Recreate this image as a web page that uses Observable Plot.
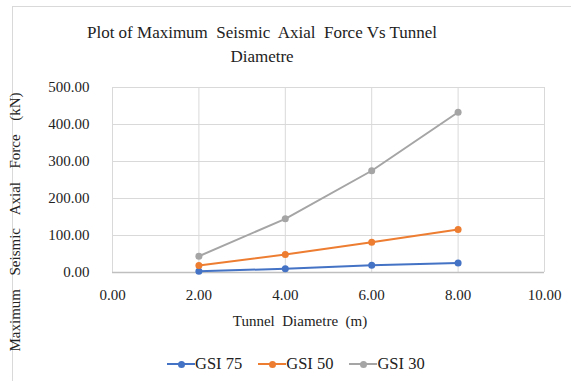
<!DOCTYPE html>
<html>
<head>
<meta charset="utf-8">
<script src="https://cdn.jsdelivr.net/npm/d3@7"></script>
<script src="https://cdn.jsdelivr.net/npm/@observablehq/plot@0.6"></script>
<style>
  html, body { margin: 0; padding: 0; background: #fff; }
  #wrap { position: relative; width: 571px; height: 381px; overflow: hidden; font-family: 'Liberation Serif', 'Times New Roman', serif; color: #222; }
  #border { position: absolute; left: 12px; top: 6px; width: 600px; height: 400px; border: 1px solid #d9d9d9; box-sizing: border-box; }
  #title { position: absolute; left: 62px; width: 400px; top: 21px; text-align: center; font-size: 17px; line-height: 24px; white-space: pre; }
  #ylabel { position: absolute; left: 15px; top: 222px; transform: translate(-50%, -50%) rotate(-90deg); font-size: 15px; word-spacing: 3px; white-space: pre; }
  #xlabel { position: absolute; left: 300px; top: 321px; transform: translate(-50%, -50%); font-size: 15px; white-space: pre; }
  #legend { position: absolute; left: 167px; top: 354px; display: flex; gap: 16px; font-size: 16.5px; }
  .item { display: flex; align-items: center; }
  .sw { position: relative; width: 28px; height: 10px; }
  .sw .ln { position: absolute; left: 0; right: 0; top: 4px; height: 2px; }
  .sw .dt { position: absolute; left: 10.5px; top: 1.5px; width: 7px; height: 7px; border-radius: 50%; }
  #chart { position: absolute; left: 0; top: 0; }
  #chart svg text { font-family: 'Liberation Serif', 'Times New Roman', serif; }
</style>
</head>
<body>
<div id="wrap">
  <div id="border"></div>
  <div id="chart"></div>
  <div id="title"></div>
  <div id="ylabel"></div>
  <div id="xlabel"></div>
  <div id="legend"></div>
</div>
<script>
const titleLines = ["Plot of Maximum  Seismic  Axial  Force Vs Tunnel", "Diametre"];
const xLabel = "Tunnel  Diametre  (m)";
const yLabel = "Maximum  Seismic  Axial  Force  (kN)";
const diameters = [2, 4, 6, 8];
const seriesNames = ["GSI 75", "GSI 50", "GSI 30"];
const gsi75 = [3.5, 10, 19.5, 26];
const gsi50 = [19, 48.5, 82, 116];
const gsi30 = [44, 145, 275, 433];
const seriesColors = ["#4472C4", "#ED7D31", "#A5A5A5"];
const xTicks = [0, 2, 4, 6, 8, 10];
const yTicks = [0, 100, 200, 300, 400, 500];

const seriesValues = [gsi75, gsi50, gsi30];
const data = [];
seriesNames.forEach((name, i) => {
  diameters.forEach((d, j) => data.push({series: name, x: d, y: seriesValues[i][j]}));
});

document.getElementById("title").textContent = titleLines.join("\n");
document.getElementById("ylabel").textContent = yLabel;
document.getElementById("xlabel").textContent = xLabel;

const legend = document.getElementById("legend");
seriesNames.forEach((name, i) => {
  const it = document.createElement("div");
  it.className = "item";
  it.innerHTML = `<div class="sw"><div class="ln" style="background:${seriesColors[i]}"></div><div class="dt" style="background:${seriesColors[i]}"></div></div><span>${name}</span>`;
  legend.appendChild(it);
});

const fmt = d3.format(".2f");
const chart = Plot.plot({
  width: 571,
  height: 381,
  marginLeft: 112,
  marginRight: 27,
  marginTop: 87,
  marginBottom: 109,
  style: "font-family: 'Liberation Serif', 'Times New Roman', serif; font-size: 15px; color: #222; background: transparent;",
  x: {domain: [0, 10], ticks: xTicks, tickFormat: fmt, label: null, tickSize: 0, tickPadding: 17},
  y: {domain: [0, 500], ticks: yTicks, tickFormat: fmt, label: null, tickSize: 0, tickPadding: 23},
  color: {domain: seriesNames, range: seriesColors},
  marks: [
    Plot.gridX(xTicks, {stroke: "#d9d9d9", strokeOpacity: 1, strokeWidth: 1}),
    Plot.gridY(yTicks, {stroke: "#d9d9d9", strokeOpacity: 1, strokeWidth: 1}),
    Plot.ruleY([0], {stroke: "#bfbfbf", strokeWidth: 1.5}),
    Plot.line(data, {x: "x", y: "y", stroke: "series", strokeWidth: 2}),
    Plot.dot(data, {x: "x", y: "y", fill: "series", r: 3.5, stroke: null})
  ]
});
document.getElementById("chart").appendChild(chart);
</script>
</body>
</html>
